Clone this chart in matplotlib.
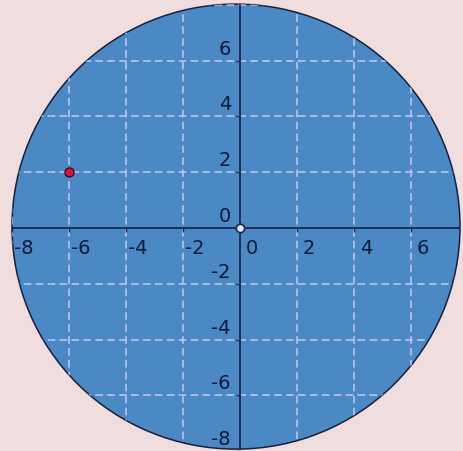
import matplotlib
matplotlib.use("Agg")
import matplotlib.pyplot as plt
from matplotlib.patches import Ellipse
from matplotlib.transforms import offset_copy

# data
grid_vals = [-8, -6, -4, -2, 0, 2, 4, 6, 8]
x_tick_vals = [-8, -6, -4, -2, 0, 2, 4, 6]
y_tick_vals = [-8, -6, -4, -2, 0, 2, 4, 6]
x_tick_labels = ["-8", "-6", "-4", "-2", "0", "2", "4", "6"]
y_tick_labels = ["-8", "-6", "-4", "-2", "0", "2", "4", "6"]
point_x = [-6]
point_y = [2]
origin_x = [0]
origin_y = [0]

BG = "#f0dddd"
FILL = "#4a89c4"
DARK = "#1e2550"
GRID = "#c3c9ef"

fig = plt.figure(figsize=(4.63, 4.52), dpi=100, facecolor=BG)
ax = fig.add_axes([0, 0, 1, 1])
ax.set_facecolor(BG)
ax.set_xlim(-8.421, 7.825)
ax.set_ylim(-7.993, 8.208)
ax.axis("off")

disk = Ellipse((-0.14, 0.05), 15.72, 15.95, facecolor=FILL,
               edgecolor="#16203e", linewidth=1.1, zorder=1)
ax.add_patch(disk)

# dashed grid, clipped to the disk
for v in grid_vals:
    if v == 0:
        continue
    gl = ax.axvline(v, color=GRID, linewidth=1.1, dashes=(5, 2.8), zorder=2)
    gl.set_clip_path(disk)
    gl = ax.axhline(v, color=GRID, linewidth=1.1, dashes=(5, 2.8), zorder=2)
    gl.set_clip_path(disk)

# axes through the origin
for line in (ax.axhline(0, color=DARK, linewidth=1.3, zorder=3),
             ax.axvline(0, color=DARK, linewidth=1.3, zorder=3)):
    line.set_clip_path(disk)

# tick marks
ax.plot(x_tick_vals, [0] * len(x_tick_vals), linestyle="none", marker=3,
        markersize=3, color=DARK, zorder=3)
ax.plot([0] * len(y_tick_vals), y_tick_vals, linestyle="none", marker=0,
        markersize=3, color=DARK, zorder=3)

# tick labels
xt = offset_copy(ax.transData, fig=fig, x=12, y=-10, units="dots")
for v, s in zip(x_tick_vals, x_tick_labels):
    ax.text(v, 0, s, transform=xt, ha="center", va="top",
            fontsize=14, color="#111a3a", zorder=4)

yt = offset_copy(ax.transData, fig=fig, x=-9, y=7, units="dots")
for v, s in zip(y_tick_vals, y_tick_labels):
    ax.text(0, v, s, transform=yt, ha="right", va="baseline",
            fontsize=14, color="#111a3a", zorder=4)

# points
ax.plot(origin_x, origin_y, "o", markersize=6, markerfacecolor="#dce6f2",
        markeredgecolor=DARK, markeredgewidth=1.2, zorder=5)
ax.plot(point_x, point_y, "o", markersize=6.5, markerfacecolor="#dc143c",
        markeredgecolor="#3a1020", markeredgewidth=1.0, zorder=5)

fig.savefig("out.png", dpi=100, facecolor=BG)
